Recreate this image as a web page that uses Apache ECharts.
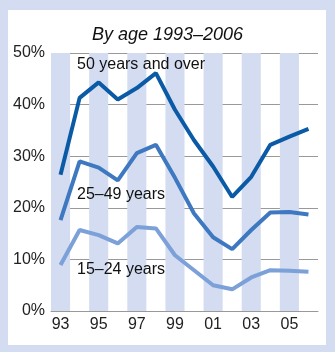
<!DOCTYPE html>
<html>
<head>
<meta charset="utf-8">
<script src="https://cdn.jsdelivr.net/npm/echarts@6/dist/echarts.min.js"></script>
<style>
  html, body { margin: 0; padding: 0; }
  #wrap { position: relative; width: 335px; height: 352px; background: #d3dcf0; }
  #panel { position: absolute; left: 8px; top: 10px; width: 318px; height: 335px; background: #ffffff; }
  #chart { position: absolute; left: 0; top: 0; width: 335px; height: 352px; }
</style>
</head>
<body>
<div id="wrap"><div id="panel"></div><div id="chart"></div></div>
<script>
const years = ['93','94','95','96','97','98','99','00','01','02','03','04','05','06'];
const age50plus = [26.4, 41.3, 44.3, 41.0, 43.2, 46.1, 39.0, 33.1, 28.0, 22.1, 26.0, 32.2, 33.8, 35.3];
const age25to49 = [17.6, 29.0, 27.8, 25.3, 30.6, 32.2, 25.8, 18.9, 14.3, 12.0, 15.7, 19.1, 19.2, 18.7];
const age15to24 = [8.9, 15.7, 14.7, 13.1, 16.3, 16.0, 10.8, 7.9, 5.0, 4.2, 6.5, 7.9, 7.8, 7.6];
const seriesNames = ['50 years and over', '25–49 years', '15–24 years'];
const titleText = 'By age 1993–2006';

const FONT = 'Liberation Sans';
const chart = echarts.init(document.getElementById('chart'), null, { renderer: 'canvas' });

chart.setOption({
  backgroundColor: 'transparent',
  animation: false,
  title: {
    text: titleText,
    left: 'center',
    top: 21,
    textStyle: { fontFamily: FONT, fontStyle: 'italic', fontWeight: 'normal', fontSize: 18, color: '#111' }
  },
  grid: { left: 51, right: 17, top: 53, bottom: 41 },
  xAxis: {
    type: 'category',
    data: years,
    boundaryGap: true,
    axisLine: { show: true, lineStyle: { color: '#999', width: 1 } },
    axisTick: { show: false },
    axisLabel: { interval: 1, margin: 6, fontFamily: FONT, fontSize: 16, color: '#222' },
    splitLine: { show: false },
    splitArea: { show: true, interval: 0, areaStyle: { color: ['#d3dcf0', 'rgba(255,255,255,0)'] } }
  },
  yAxis: {
    type: 'value',
    min: 0, max: 50, interval: 10,
    axisLine: { show: false },
    axisTick: { show: false },
    axisLabel: { formatter: '{value}%', margin: 6, fontFamily: FONT, fontSize: 16, color: '#222' },
    splitLine: { show: true, lineStyle: { color: '#999', width: 1 } }
  },
  series: [
    { name: seriesNames[0], type: 'line', data: age50plus, symbol: 'none', lineStyle: { color: '#0b5aa6', width: 4 } },
    { name: seriesNames[1], type: 'line', data: age25to49, symbol: 'none', lineStyle: { color: '#3d78c0', width: 4 } },
    { name: seriesNames[2], type: 'line', data: age15to24, symbol: 'none', lineStyle: { color: '#7ca0d8', width: 4 } }
  ],
  graphic: [
    { type: 'text', left: 77, top: 57, z: 100, style: { text: seriesNames[0], fontFamily: FONT, fontSize: 16, fill: '#111' } },
    { type: 'text', left: 77, top: 187, z: 100, style: { text: seriesNames[1], fontFamily: FONT, fontSize: 16, fill: '#111' } },
    { type: 'text', left: 77, top: 262, z: 100, style: { text: seriesNames[2], fontFamily: FONT, fontSize: 16, fill: '#111' } }
  ]
});
</script>
</body>
</html>
